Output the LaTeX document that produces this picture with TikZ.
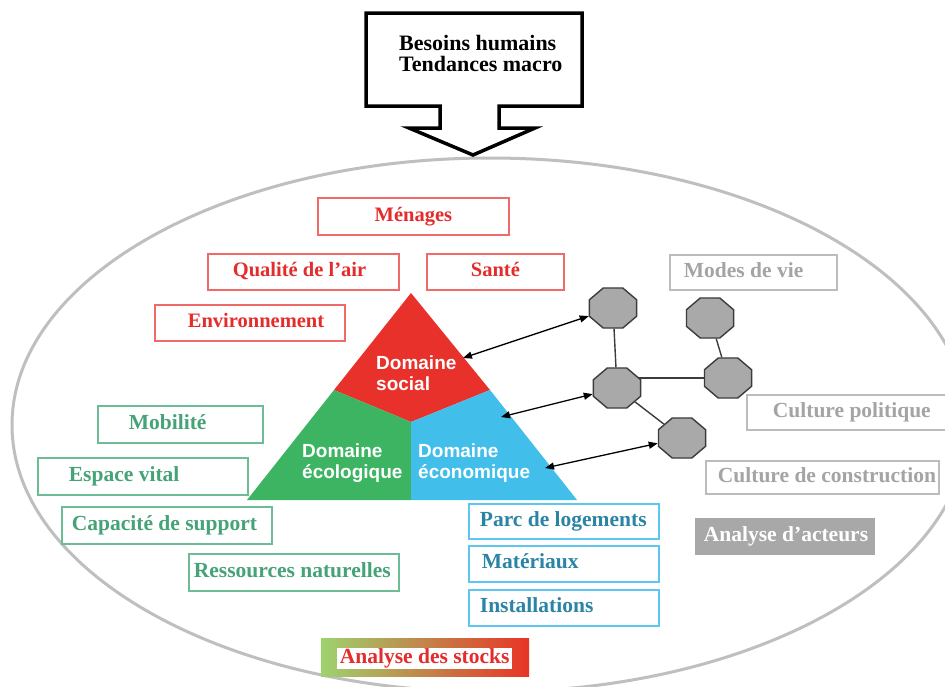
\documentclass[tikz,border=0pt]{standalone}
\usepackage{fontspec}
\setmainfont{Liberation Serif}
\setsansfont{Liberation Sans}
\usetikzlibrary{shapes.geometric,arrows.meta}
\pgfdeclarelayer{bg}
\pgfdeclarelayer{fg}
\pgfsetlayers{bg,main,fg}
\definecolor{redtxt}{HTML}{E42C2C}
\definecolor{redbrd}{HTML}{F06A6A}
\definecolor{grntxt}{HTML}{46A277}
\definecolor{grnbrd}{HTML}{6CBC95}
\definecolor{blutxt}{HTML}{2B84A5}
\definecolor{blubrd}{HTML}{5EC7EF}
\definecolor{grytxt}{HTML}{A4A4A4}
\definecolor{grybrd}{HTML}{BCBCBC}
\definecolor{gryfill}{HTML}{A8A8A8}
\definecolor{ellcol}{HTML}{BFBFBF}
\definecolor{trired}{HTML}{E8312A}
\definecolor{trigrn}{HTML}{3CB462}
\definecolor{triblu}{HTML}{42BEEA}
\definecolor{octfill}{HTML}{A9A9A9}
\definecolor{octbrd}{HTML}{3C3C3C}
\definecolor{stkgrn}{HTML}{9DD36E}
\definecolor{stkorg}{HTML}{E9A055}
\definecolor{stkred}{HTML}{E83425}
\newcommand\padtxt[3]{\makebox[#1pt][l]{\hspace*{#2pt}#3}}
\newcommand\ctrtxt[2]{\makebox[#1pt][c]{#2}}
\begin{document}
\begin{tikzpicture}[x=1pt,y=-1pt,
  tbox/.style={anchor=north west, inner sep=0pt, line width=1.8pt, fill=white,
    font=\bfseries\fontsize{21.5}{24}\selectfont, text height=14pt, text depth=4.5pt},
  rbox/.style={tbox, draw=redbrd, text=redtxt,
    font=\bfseries\fontsize{20.5}{23}\selectfont, text height=13.5pt, text depth=4.3pt},
  gbox/.style={tbox, draw=grnbrd, text=grntxt},
  bbox/.style={tbox, draw=blubrd, text=blutxt},
  ybox/.style={tbox, draw=grybrd, text=grytxt},
  trilbl/.style={anchor=north west, inner sep=0pt, align=left, text=white,
    font=\sffamily\bfseries\fontsize{19}{21}\selectfont},
  oct/.style={regular polygon, regular polygon sides=8, minimum size=51pt,
    inner sep=0pt, fill=octfill, draw=octbrd, line width=1.4pt, transform shape},
  octpos/.style={shift={#1}, yscale=0.85},
  link/.style={line width=1.4pt, octbrd},
  arr/.style={{Triangle[length=9pt,width=7pt]}-{Triangle[length=9pt,width=7pt]},
    line width=1.3pt, black}
]
\useasboundingbox (0,0) rectangle (945,686);
\begin{pgfonlayer}{bg}
\fill[white] (0,0) rectangle (945,686);
\end{pgfonlayer}
% ellipse
\draw[ellcol, line width=3pt] (490,425) ellipse [x radius=478, y radius=267];
% callout
\draw[line width=3.5pt, fill=white, line join=miter]
  (366,13) -- (582,13) -- (582,106) -- (499,106) -- (499,128) -- (535,128)
  -- (473,155) -- (409,128) -- (440,128) -- (440,106) -- (366,106) -- cycle;
\node[anchor=north west, inner sep=0pt, align=left,
  font=\bfseries\fontsize{22}{21}\selectfont] (besoins) at (399,35)
  {Besoins humains\\Tendances macro};
% triangle
\coordinate (apex) at (411,293);
\coordinate (bl) at (247,500);
\coordinate (br) at (577,500);
\coordinate (pl) at (334,390);
\coordinate (pr) at (490,390);
\coordinate (ctr) at (411,422);
\coordinate (bm) at (411,500);
\fill[trired] (apex) -- (pr) -- (ctr) -- (pl) -- cycle;
\fill[trigrn] (pl) -- (ctr) -- (bm) -- (bl) -- cycle;
\fill[triblu] (ctr) -- (pr) -- (br) -- (bm) -- cycle;
\node[trilbl] (social) at (376,355.5) {Domaine\\social};
\node[trilbl] (ecolo) at (302,443.5) {Domaine\\écologique};
\node[trilbl] (econo) at (418,443.5) {Domaine\\économique};
% red boxes
\node[rbox, minimum height=37pt] (menages) at (317,197) {\ctrtxt{191}{Ménages}};
\node[rbox, minimum height=36pt] (qualite) at (207,253) {\padtxt{191}{25}{Qualité de l’air}};
\node[rbox, minimum height=36pt] (sante) at (426,253) {\ctrtxt{137}{Santé}};
\node[rbox, minimum height=36pt] (environ) at (154,304) {\padtxt{190}{33}{Environnement}};
% green boxes
\node[gbox, minimum height=37pt] (mobilite) at (97,405) {\padtxt{165}{31}{Mobilité}};
\node[gbox, minimum height=37pt] (espace) at (37,457) {\padtxt{210}{31}{Espace vital}};
\node[gbox, minimum height=37pt] (capacite) at (61,506) {\padtxt{210}{10}{Capacité de support}};
\node[gbox, minimum height=37pt] (ressources) at (188,553) {\padtxt{210}{5}{Ressources naturelles}};
% blue boxes
\node[bbox, minimum height=35pt] (parc) at (468,503) {\padtxt{190}{11}{Parc de logements}};
\node[bbox, minimum height=36pt] (materiaux) at (468,545) {\padtxt{190}{13}{Matériaux}};
\node[bbox, minimum height=36pt] (install) at (468,589) {\padtxt{190}{11}{Installations}};
% grey boxes
\node[ybox, minimum height=35pt] (modes) at (669,254) {\padtxt{167}{14}{Modes de vie}};
\node[ybox, minimum height=35pt] (cpol) at (746,394) {\padtxt{199}{26}{Culture politique}};
\node[ybox, minimum height=33pt] (ccons) at (705,460) {\padtxt{233}{12}{Culture de construction}};
\node[tbox, draw=none, fill=gryfill, text=white, minimum height=37pt] (acteurs) at (694,517)
  {\padtxt{180}{9}{Analyse d’acteurs}};
% stocks
\node[anchor=north west, inner sep=0pt, minimum width=208pt, minimum height=38pt,
  left color=stkgrn, middle color=stkorg, right color=stkred] (stocks) at (321,638) {};
\node[anchor=north west, inner sep=0pt, fill=white, minimum width=175pt, minimum height=21pt,
  text=redtxt, font=\bfseries\fontsize{21.5}{24}\selectfont] (stockslbl) at (337,648)
  {Analyse des stocks};
% octagons
\begin{pgfonlayer}{fg}
\begin{scope}[octpos={(613,308)}] \node[oct] (o1) at (0,0) {}; \end{scope}
\begin{scope}[octpos={(710,318)}] \node[oct] (o2) at (0,0) {}; \end{scope}
\begin{scope}[octpos={(617,388)}] \node[oct] (o3) at (0,0) {}; \end{scope}
\begin{scope}[octpos={(728,378)}] \node[oct] (o4) at (0,0) {}; \end{scope}
\begin{scope}[octpos={(682,438)}] \node[oct] (o5) at (0,0) {}; \end{scope}
\end{pgfonlayer}
\draw[link] (o1) -- (o3);
\draw[link] (o3.center |- o4.center) -- (o4.center);
\draw[link] (o2) -- (o4);
\draw[link] (o3) -- (o5);
% arrows
\coordinate (s1) at (463,358);
\coordinate (s2) at (501,417);
\coordinate (s3) at (545,468);
\draw[arr] (s1) -- (o1);
\draw[arr] (s2) -- (o3);
\draw[arr] (s3) -- (o5);
\end{tikzpicture}
\end{document}
